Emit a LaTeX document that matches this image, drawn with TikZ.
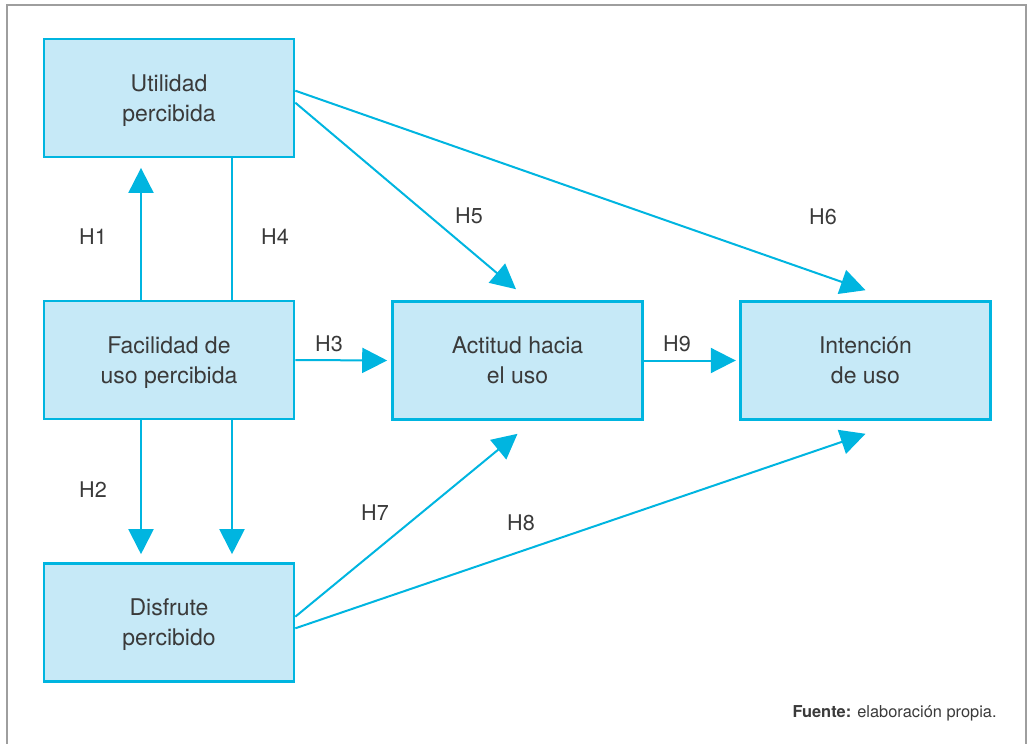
\documentclass[tikz,border=0pt]{standalone}
\usepackage{fontspec}
\setmainfont{TeX Gyre Heros}
\usetikzlibrary{arrows.meta}
\definecolor{cyanline}{HTML}{00B5E0}
\definecolor{boxfill}{HTML}{C6E9F7}
\definecolor{txt}{HTML}{3A3A3A}
\definecolor{framegray}{HTML}{9E9E9E}
\tikzset{
  modelbox/.style={draw=cyanline, fill=boxfill, line width=1.3pt,
    minimum width=125pt, minimum height=59pt, inner sep=0pt,
    align=center, text=txt, text depth=0pt, font=\fontsize{11.5}{15}\selectfont},
  conn/.style={draw=cyanline, line width=1pt},
  arr/.style={conn, -{Triangle[width=12.5pt,length=12.5pt]}},
  hlabel/.style={text=txt, font=\fontsize{10.8}{13}\selectfont, inner sep=0pt}
}
\begin{document}
\begin{tikzpicture}[x=0.5pt,y=-0.5pt]
\useasboundingbox (0,0) rectangle (1028,744);
\begin{scope}
\clip (0,0) rectangle (1028,744);
\draw[framegray, line width=1pt] (7,5) rectangle (1026,800);
\end{scope}

\node[modelbox] (ut)  at (169,98)    {Utilidad\\percibida};
\node[modelbox] (fac) at (169,360)   {Facilidad de\\uso percibida};
\node[modelbox] (dis) at (169,622.5) {Disfrute\\percibido};
\node[modelbox] (act) at (517.5,360.5) {Actitud hacia\\el uso};
\node[modelbox] (int) at (865.5,360.5) {Intención\\de uso};

% H1
\draw[arr] ([xshift=-14pt]fac.north) -- ([xshift=-14pt,yshift=-4.8pt]ut.south);
% H4
\draw[conn] ([xshift=31.5pt]ut.south) -- ([xshift=31.5pt]fac.north);
% H2
\draw[arr] ([xshift=-14pt]fac.south) -- ([xshift=-14pt,yshift=4pt]dis.north);
\draw[arr] ([xshift=31.5pt]fac.south) -- ([xshift=31.5pt,yshift=4pt]dis.north);
% H3
\draw[arr] (fac.east) -- ([xshift=-2pt]act.west);
% H9
\draw[arr] (act.east) -- ([xshift=-1.7pt]int.west);
% H5
\draw[arr] ([yshift=-2.35pt]ut.east) -- ([xshift=-0.75pt,yshift=5.5pt]act.north);
% H6
\draw[arr] ([yshift=3.65pt]ut.east) -- ([yshift=5pt]int.north);
% H7
\draw[arr] ([yshift=2.9pt]dis.east) -- ([yshift=-6.5pt]act.south);
% H8
\draw[arr] ([yshift=-2.9pt]dis.east) -- ([yshift=-6.5pt]int.south);

\node[hlabel] (h1) at (93,237) {H1};
\node[hlabel] (h4) at (275,237) {H4};
\node[hlabel] (h5) at (469,216) {H5};
\node[hlabel] (h6) at (823,217) {H6};
\node[hlabel] (h3) at (329,344) {H3};
\node[hlabel] (h9) at (677,344) {H9};
\node[hlabel] (h2) at (93,490) {H2};
\node[hlabel] (h7) at (375,513) {H7};
\node[hlabel] (h8) at (521,523) {H8};

\node[text=txt, font=\fontsize{8.2}{10}\selectfont, anchor=base east, inner sep=0pt] (src) at (997,717)
  {\textbf{Fuente:} elaboración propia.};
\end{tikzpicture}
\end{document}
